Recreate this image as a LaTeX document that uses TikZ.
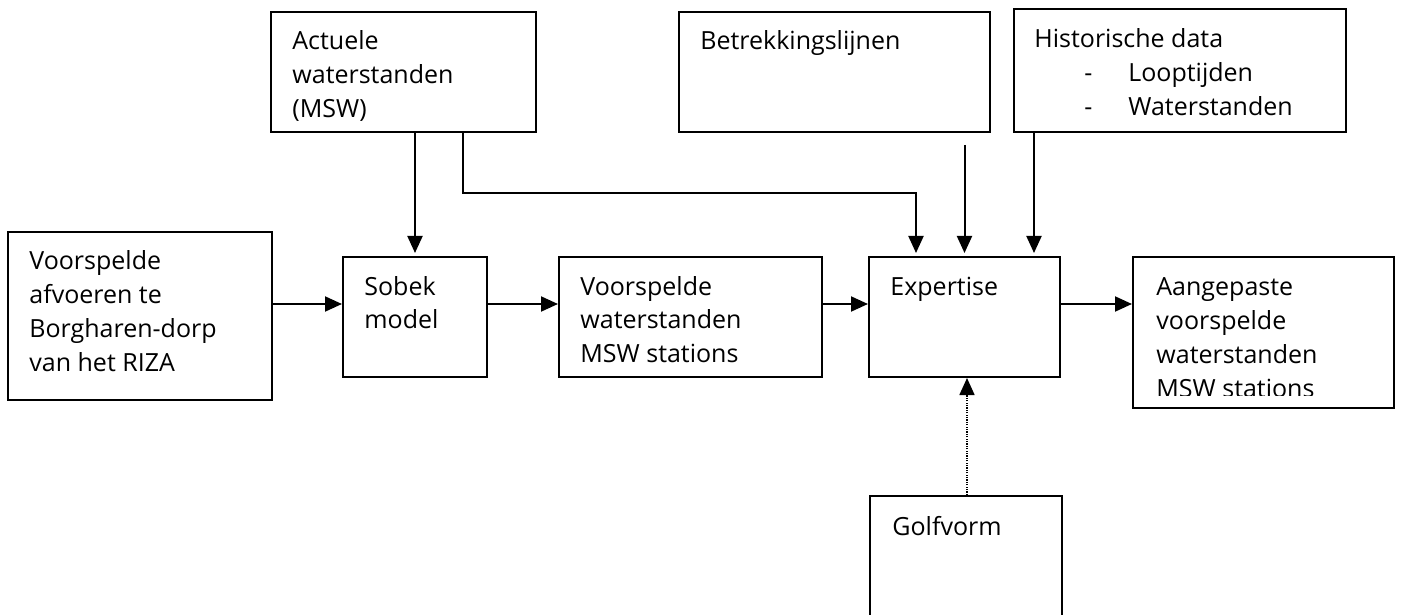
\documentclass[tikz,border=0pt]{standalone}
\usepackage{fontspec}
\setmainfont{Open Sans}
\usetikzlibrary{fit,arrows.meta}
\newcommand\tlines[1]{\vtop{\halign{##\hfil\cr#1\crcr}}}
\begin{document}
\begin{tikzpicture}[x=0.5pt,y=-0.5pt,
 box/.style={draw,line width=1pt,inner sep=0pt},
 txt/.style={anchor=base west,inner sep=0pt,font=\fontsize{12.5pt}{17pt}\selectfont},
 arr/.style={line width=1pt,-{Triangle[length=8.5pt,width=7.5pt]}},
 dotarr/.style={line width=0.8pt,dash pattern=on 0.6pt off 0.6pt,-{Triangle[length=8.5pt,width=7.5pt]}},
]
\useasboundingbox (0,0) rectangle (1405,615);
\clip (0,0) rectangle (1405,615);
% boxes
\node[box,fit={(271,12)(536,132)}] (act) {};
\node[box,fit={(679,12)(990,132)}] (betr) {};
\node[box,fit={(1014,9)(1346,132)}] (hist) {};
\node[box,fit={(8,232)(272,400)}] (afv) {};
\node[box,fit={(343,257)(487,377)}] (sob) {};
\node[box,fit={(559,257)(822,377)}] (vw) {};
\node[box,fit={(869,257)(1060,377)}] (exp) {};
\node[box,fit={(1133,257)(1394,408)}] (aang) {};
\node[box,fit={(870,496)(1062,650)}] (golf) {};
% texts
\node[txt] (tact) at (292,50) {\tlines{Actuele\cr waterstanden\cr (MSW)}};
\node[txt] (tbetr) at (700,50) {Betrekkingslijnen};
\node[txt] (thist) at (1034,48) {\tlines{Historische data\cr \hspace*{25pt}\makebox[22pt][l]{-}Looptijden\cr \hspace*{25pt}\makebox[22pt][l]{-}Waterstanden}};
\node[txt] (tafv) at (29,270) {\tlines{Voorspelde\cr afvoeren te\cr Borgharen-dorp\cr van het RIZA}};
\node[txt] (tsob) at (364,295) {\tlines{Sobek\cr model}};
\node[txt] (tvw) at (580,295) {\tlines{Voorspelde\cr waterstanden\cr MSW stations}};
\node[txt] (texp) at (890,295) {Expertise};
\begin{scope}
\clip (1133,257) rectangle (1394,395);
\node[txt] (taang) at (1156,296) {\tlines{Aangepaste\cr voorspelde\cr waterstanden\cr MSW stations}};
\end{scope}
\node[txt] (tgolf) at (892,535) {Golfvorm};
% connectors
\coordinate (row) at (0,304);
\draw[arr] (afv.east |- row) -- (sob.west |- row);
\draw[arr] (sob.east |- row) -- (vw.west |- row);
\draw[arr] (vw.east |- row) -- (exp.west |- row);
\draw[arr] (exp.east |- row) -- (aang.west |- row);
\draw[arr,shorten >=1.5pt] (act.south -| sob.north) -- (sob.north);
\coordinate (elbow) at (463,193);
\coordinate (in1) at (916,0);
\draw[arr,shorten >=1.5pt] (act.south -| elbow) -- (elbow) -| (exp.north -| in1);
\draw[arr,shorten <=6pt,shorten >=1.5pt] (betr.south -| exp.north) -- (exp.north);
\coordinate (in3) at (1034,0);
\draw[arr,shorten >=1.5pt] (hist.south -| in3) -- (exp.north -| in3);
\coordinate (dotx) at (967,0);
\draw[dotarr] (golf.north -| dotx) -- (exp.south -| dotx);
\end{tikzpicture}
\end{document}
